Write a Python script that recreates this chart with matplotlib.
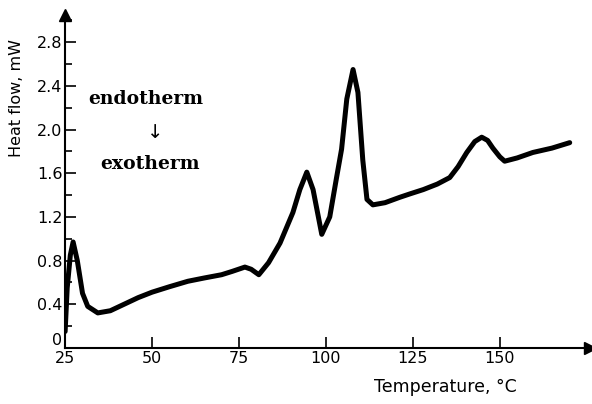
import matplotlib.pyplot as plt
from matplotlib.ticker import MultipleLocator

# DSC trace
temp = [25.0, 25.6, 26.5, 27.3, 28.5, 30.0, 31.5, 34.4, 38.0, 42.0, 46.0, 50.0, 55.0,
        60.3, 65.0, 70.0, 73.0, 76.7, 78.5, 80.7, 83.5, 86.8, 90.5, 92.5, 94.5,
        96.3, 98.8, 101.1, 103.0, 104.5, 106.0, 107.8, 109.2, 110.6, 111.8, 113.5,
        117.0, 121.3, 124.1, 128.0, 132.0, 135.6, 138.0, 140.5, 142.8, 144.8,
        146.5, 148.0, 150.0, 151.4, 155.0, 159.5, 165.0, 170.1]
heat = [0.15, 0.55, 0.85, 0.97, 0.80, 0.50, 0.38, 0.32, 0.34, 0.40, 0.46, 0.51, 0.56,
        0.61, 0.64, 0.67, 0.70, 0.74, 0.72, 0.67, 0.78, 0.96, 1.24, 1.45, 1.61,
        1.45, 1.04, 1.20, 1.55, 1.82, 2.28, 2.55, 2.34, 1.72, 1.36, 1.31,
        1.33, 1.38, 1.41, 1.45, 1.50, 1.56, 1.66, 1.79, 1.89, 1.93,
        1.90, 1.83, 1.75, 1.71, 1.74, 1.79, 1.83, 1.88]

xticks = [25, 50, 75, 100, 125, 150]
yticks = [0, 0.4, 0.8, 1.2, 1.6, 2.0, 2.4, 2.8]
ylabels = ['0', '0.4', '0.8', '1.2', '1.6', '2.0', '2.4', '2.8']

fig = plt.figure(figsize=(5.92, 4.04), dpi=100)
ax = fig.add_axes([0.11, 0.139, 0.887, 0.824])

ax.plot(temp, heat, color='black', lw=3.6, solid_capstyle='round', solid_joinstyle='round')

ax.set_xlim(25, 176)
ax.set_ylim(0, 3.05)
for s in ['top', 'right']:
    ax.spines[s].set_visible(False)
for s in ['left', 'bottom']:
    ax.spines[s].set_linewidth(1.5)

# axis arrows
ax.plot(1, 0, '>k', ms=9, transform=ax.transAxes, clip_on=False)
ax.plot(0, 1, '^k', ms=9, transform=ax.transAxes, clip_on=False)

ax.set_xticks(xticks)
ax.set_yticks(yticks)
ax.set_yticklabels(ylabels)
ax.yaxis.set_minor_locator(MultipleLocator(0.2))
ax.tick_params(axis='both', which='major', direction='in', length=8, width=1.2,
               labelsize=11.5, pad=2)
ax.tick_params(axis='y', which='minor', direction='in', length=5, width=1.2)
# the "0" sits just above the x axis, as in the original
ax.get_yticklabels()[0].set_va('bottom')

ax.set_xlabel('Temperature, °C', fontsize=12.5)
ax.xaxis.set_label_coords(0.724, -0.092)
ax.set_ylabel('Heat flow, mW', fontsize=11.5)
ax.yaxis.set_label_coords(-0.078, 0.75)

ax.text(31.6, 2.28, 'endotherm', family='DejaVu Serif', weight='bold', fontsize=13.5,
        va='center', ha='left')
ax.text(51.0, 1.97, '↓', family='DejaVu Sans', fontsize=14,
        va='center', ha='center')
ax.text(35.0, 1.68, 'exotherm', family='DejaVu Serif', weight='bold', fontsize=13.5,
        va='center', ha='left')

fig.savefig('out.png', dpi=100)
